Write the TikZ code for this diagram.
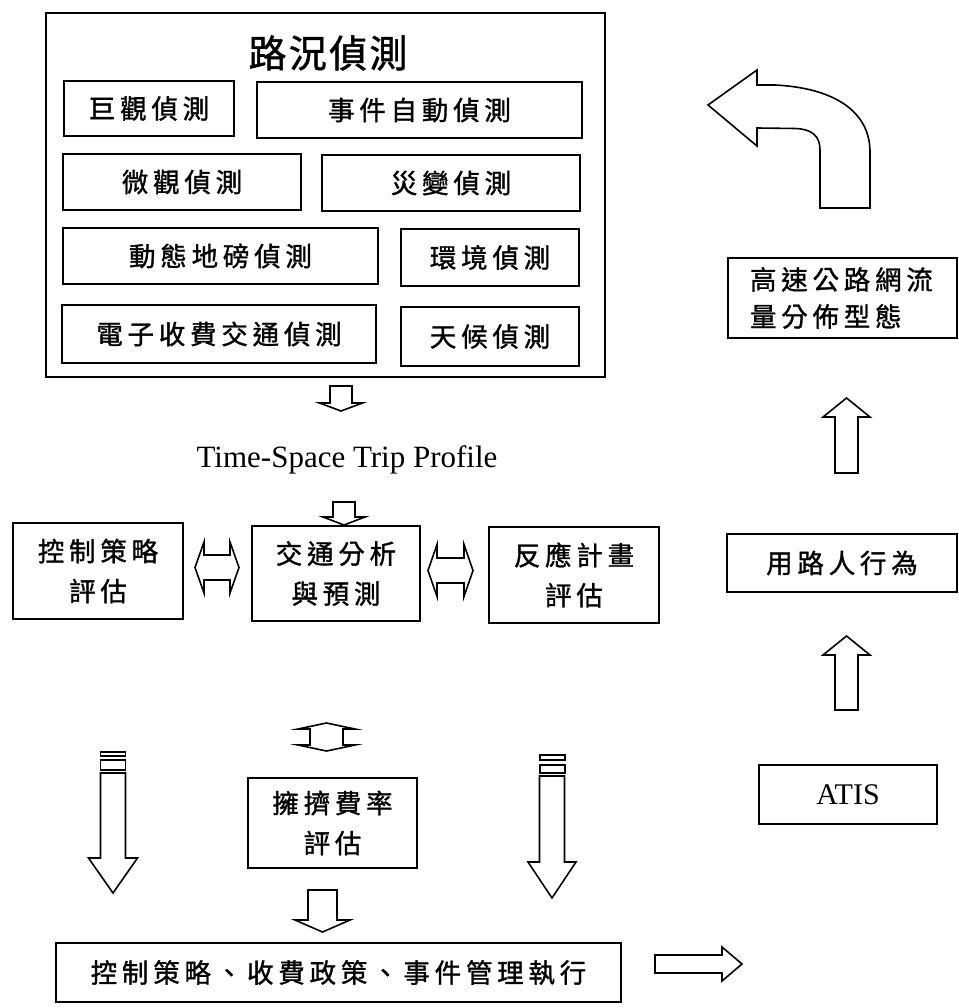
\documentclass[tikz,border=0pt]{standalone}
\usepackage{fontspec}
\setmainfont{Liberation Serif}
\newfontfamily\cjk{Noto Sans CJK TC}[LetterSpace=18, FakeBold=1.2]
\newfontfamily\cjktitle{Noto Sans CJK TC}[LetterSpace=6, FakeBold=1.2]
\tikzset{
  box/.style={draw, line width=1.6pt, inner sep=0pt, align=center,
    font=\cjk\fontsize{26.5}{40}\selectfont},
  blk/.style={draw, line width=1.6pt, fill=white, line join=miter},
}
% vertical block arrow: x, y-start, y-headbase, y-tip, shaft half, head half
\newcommand\vblock[6]{\draw[blk] (#1-#5,#2) -- (#1-#5,#3) -- (#1-#6,#3) -- (#1,#4) -- (#1+#6,#3) -- (#1+#5,#3) -- (#1+#5,#2) -- cycle;}
% horizontal block arrow: y, x-start, x-headbase, x-tip, shaft half, head half
\newcommand\hblock[6]{\draw[blk] (#2,#1-#5) -- (#3,#1-#5) -- (#3,#1-#6) -- (#4,#1) -- (#3,#1+#6) -- (#3,#1+#5) -- (#2,#1+#5) -- cycle;}
% horizontal double arrow: y, left tip, left base, right base, right tip, shaft half, head half
\newcommand\hdouble[7]{\draw[blk] (#2,#1) -- (#3,#1-#7) -- (#3,#1-#6) -- (#4,#1-#6) -- (#4,#1-#7) -- (#5,#1) -- (#4,#1+#7) -- (#4,#1+#6) -- (#3,#1+#6) -- (#3,#1+#7) -- cycle;}
% vertical double arrow: x, top tip, top base, bottom base, bottom tip, shaft half, head half
\newcommand\vdouble[7]{\draw[blk] (#1,#2) -- (#1+#7,#3) -- (#1+#6,#3) -- (#1+#6,#4) -- (#1+#7,#4) -- (#1,#5) -- (#1-#7,#4) -- (#1-#6,#4) -- (#1-#6,#3) -- (#1-#7,#3) -- cycle;}
\begin{document}
\begin{tikzpicture}[x=1pt, y=-1pt]
\useasboundingbox (0,0) rectangle (958,1008);
\fill[white] (0,0) rectangle (958,1008);

% ---- top detection block ----
\node[box, minimum width=559, minimum height=364] (detect) at (325.5,195) {};
\node[font=\cjktitle\fontsize{38}{44}\selectfont] (title) at (328,53) {路況偵測};
\node[box, minimum width=170, minimum height=55] (macro) at (149,108.5) {巨觀偵測};
\node[box, minimum width=325, minimum height=56] (event) at (419.5,110) {事件自動偵測};
\node[box, minimum width=238, minimum height=56] (micro) at (182,182) {微觀偵測};
\node[box, minimum width=258, minimum height=56] (disaster) at (451,183) {災變偵測};
\node[box, minimum width=315, minimum height=56] (wim) at (220.5,256) {動態地磅偵測};
\node[box, minimum width=178, minimum height=57] (env) at (490,257.5) {環境偵測};
\node[box, minimum width=314, minimum height=58] (etc) at (219,334) {電子收費交通偵測};
\node[box, minimum width=178, minimum height=59] (weather) at (490,336.5) {天候偵測};

% ---- profile text ----
\node[font=\fontsize{31}{36}\selectfont, anchor=base, inner sep=0pt] (tsp) at (347,467) {Time-Space Trip Profile};

% ---- middle row ----
\node[box, minimum width=170, minimum height=96] (ctrl) at (98,571) {控制策略\\評估};
\node[box, minimum width=168, minimum height=95] (analysis) at (336,573.5) {交通分析\\與預測};
\node[box, minimum width=170, minimum height=96] (response) at (574,575) {反應計畫\\評估};

% ---- congestion pricing ----
\node[box, minimum width=169, minimum height=90] (pricing) at (332.5,823) {擁擠費率\\評估};

% ---- bottom ----
\node[box, minimum width=565, minimum height=59] (exec) at (338.5,972.5) {控制策略、收費政策、事件管理執行};

% ---- right column ----
\node[box, minimum width=178, minimum height=59, font=\fontsize{30}{36}\selectfont] (atis) at (848,794.5) {ATIS};
\node[box, minimum width=230, minimum height=58] (user) at (842,563) {用路人行為};
\node[box, minimum width=229, minimum height=80, text width=185, align=left,
      font=\cjk\fontsize{26.5}{37}\selectfont] (flow) at (842.5,298) {高速公路網流\\量分佈型態};

% ---- block arrows ----
\vblock{341}{386}{403}{411}{11}{21.5}
\vblock{344}{502}{517}{525}{11}{21}
\hdouble{567.5}{195}{204}{230}{239}{12.5}{25.5}
\hdouble{570.5}{428}{437}{464}{473}{12.5}{26}
\vdouble{326.5}{723}{729}{745}{751}{16.5}{28.5}
\vblock{322.5}{890}{920}{932}{14.5}{27.5}

% striped down arrows
\draw[blk] (100.5,752) rectangle (125.5,756);
\draw[blk] (100.5,760) rectangle (125.5,770);
\vblock{113}{773}{858}{893}{12.5}{24.5}
\draw[blk] (540,755) rectangle (565,760);
\draw[blk] (540,765) rectangle (565,773);
\vblock{552}{776}{862}{898}{12.5}{24}

% right arrow
\hblock{964}{655}{722}{742}{9}{17}

% up arrows
\vblock{846.5}{710}{655}{636}{11.5}{23.5}
\vblock{846.5}{473}{417}{398}{11.5}{23.5}

% curved arrow
\draw[blk] (708,105) -- (757,70) -- (757,85) -- (775,85)
  .. controls (835,88) and (870,112) .. (870,152) -- (870,208) -- (820,208) -- (820,150)
  .. controls (820,136) and (812,129) .. (795,128.5) -- (757,128) -- (757,146) -- cycle;
\end{tikzpicture}
\end{document}
